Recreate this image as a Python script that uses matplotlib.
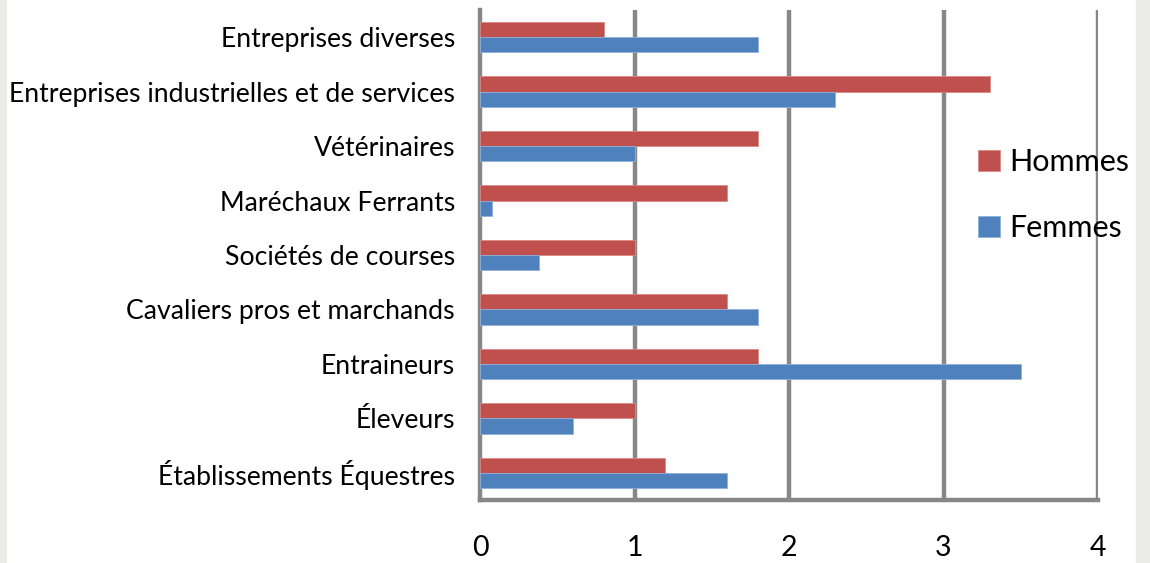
import matplotlib
matplotlib.use("Agg")
import matplotlib.pyplot as plt
import numpy as np
from matplotlib.patches import Rectangle

plt.rcParams['font.family'] = ['Lato', 'DejaVu Sans']

# categories listed bottom -> top
categories = ["Établissements Équestres", "Éleveurs", "Entraineurs",
              "Cavaliers pros et marchands", "Sociétés de courses",
              "Maréchaux Ferrants", "Vétérinaires",
              "Entreprises industrielles et de services", "Entreprises diverses"]
hommes = [1.2, 1.0, 1.8, 1.6, 1.0, 1.6, 1.8, 3.3, 0.8]
femmes = [1.6, 0.6, 3.5, 1.8, 0.38, 0.08, 1.0, 2.3, 1.8]
xticks = [0, 1, 2, 3, 4]

red = "#C0504D"
blue = "#4F81BD"
grid = "#878787"

fig = plt.figure(figsize=(11.5, 5.63), dpi=100)
fig.patches.append(Rectangle((0, 0), 6/1150, 1, transform=fig.transFigure,
                             color="#EBEBE7", zorder=0))
fig.patches.append(Rectangle((1136/1150, 0), 14/1150, 1, transform=fig.transFigure,
                             color="#EBEBE7", zorder=0))
ax = fig.add_axes([480/1150, 63/563, 618/1150, 490/563])

y = np.arange(len(categories))
h = 0.28
ax.barh(y + h/2, hommes, height=h, color=red, edgecolor="#D88A88", linewidth=0.6,
        label="Hommes", zorder=3)
ax.barh(y - h/2, femmes, height=h, color=blue, edgecolor="#8FB0DA", linewidth=0.6,
        label="Femmes", zorder=3)

ax.set_xlim(0, 4)
ax.set_ylim(-0.5, len(categories) - 0.5)
for x in xticks[1:]:
    ax.axvline(x, color=grid, lw=3.2, zorder=1, solid_capstyle="round")
for s in ["top", "right"]:
    ax.spines[s].set_visible(False)
for s in ["left", "bottom"]:
    ax.spines[s].set_color(grid)
    ax.spines[s].set_linewidth(3.2)

ax.set_xticks(xticks)
ax.set_xticklabels([str(t) for t in xticks], fontsize=20.5)
ax.set_yticks(y)
ax.set_yticklabels(categories, fontsize=19.2)
ax.tick_params(axis="x", length=0, pad=25)
ax.tick_params(axis="y", length=0, pad=18)

leg = ax.legend(loc="center left", bbox_to_anchor=(966/1150, 1 - 195/563),
                bbox_transform=fig.transFigure, frameon=False, fontsize=22,
                handlelength=0.7, handleheight=0.7, handletextpad=0.3,
                labelspacing=1.25, borderaxespad=0)
leg.set_zorder(5)

fig.savefig("out.png", dpi=100)
